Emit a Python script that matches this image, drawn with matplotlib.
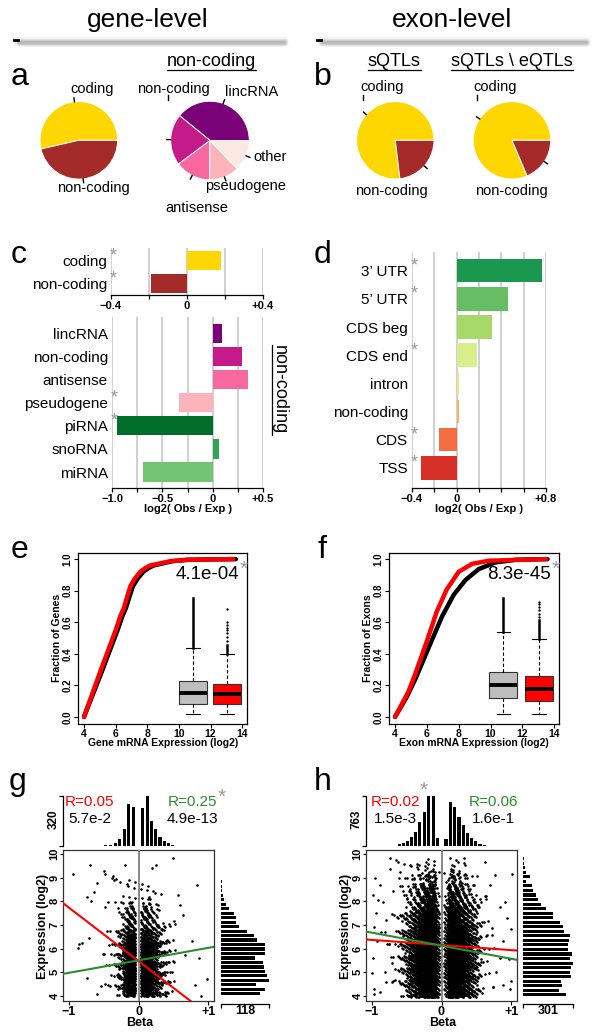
import numpy as np
import matplotlib.pyplot as plt
from matplotlib.lines import Line2D

plt.rcParams['font.family'] = ['Liberation Sans', 'DejaVu Sans']

W, H = 601, 1035

# ---------------- datos ----------------
# a / b: tortas
gene_frac = [0.536, 0.464]            # coding, non-coding
gene_cols = ['#FFD700', '#A52A2A']
nc_cats = ['lincRNA', 'non-coding', 'antisense', 'pseudogene', 'other']
nc_frac = [0.391, 0.211, 0.146, 0.124, 0.128]
nc_cols = ['#7A0177', '#C51B8A', '#F768A1', '#FBB4B9', '#FDE9E3']
sqtl_frac = [0.769, 0.231]
sqtl_noe_frac = [0.814, 0.186]

# c: log2(Obs/Exp) nivel gen
c_top_cats = ['coding', 'non-coding']
c_top_vals = [0.18, -0.19]
c_top_star = [True, True]
c_cats = ['lincRNA', 'non-coding', 'antisense', 'pseudogene', 'piRNA', 'snoRNA', 'miRNA']
c_vals = [0.09, 0.29, 0.35, -0.33, -0.95, 0.06, -0.69]
c_cols = ['#7A0177', '#C51B8A', '#F768A1', '#FBB4B9', '#006D2C', '#31A354', '#74C476']
c_star = [False, False, False, True, True, False, False]

# d: log2(Obs/Exp) nivel exón
d_cats = ['3\u2019 UTR', '5\u2019 UTR', 'CDS beg', 'CDS end', 'intron', 'non-coding', 'CDS', 'TSS']
d_vals = [0.76, 0.46, 0.32, 0.18, 0.025, 0.018, -0.16, -0.32]
d_cols = ['#1A9850', '#66BD63', '#A6D96A', '#D9EF8B', '#FEE08B', '#FDAE61', '#F46D43', '#D73027']
d_star = [True, True, False, True, False, False, True, True]

# e: ECDF expresión génica
e_red_x = [4.0, 5.0, 6.0, 6.3, 6.52, 6.75, 6.94, 7.2, 7.56, 7.9, 8.19, 9.45, 10.5, 13.43]
e_red_y = [0.0, 0.28, 0.55, 0.64, 0.69, 0.77, 0.83, 0.875, 0.92, 0.945, 0.96, 0.987, 0.996, 1.0]
e_blk_x = [4.0, 5.1, 6.12, 6.43, 6.65, 6.9, 7.1, 7.38, 7.75, 8.1, 8.4, 9.6, 10.6, 13.6]
e_blk_y = [0.0, 0.28, 0.55, 0.64, 0.69, 0.77, 0.83, 0.875, 0.92, 0.945, 0.96, 0.987, 0.996, 1.0]
e_box_pos = [10.9, 13.05]
e_box_q = [(0.021, 0.084, 0.152, 0.225, 0.436), (0.021, 0.082, 0.147, 0.21, 0.398)]
e_fl_runs = [(0.436, 0.756), (0.398, 0.457)]
e_fl_dots = [[], [0.482, 0.509, 0.53, 0.55, 0.566, 0.583, 0.60, 0.684]]
e_pval = '4.1e-04'

# f: ECDF expresión exónica
f_red_x = [4.0, 4.84, 5.26, 6.0, 6.63, 7.26, 8.0, 8.84, 9.9, 13.47]
f_red_y = [0.0, 0.16, 0.27, 0.48, 0.67, 0.81, 0.92, 0.97, 0.99, 1.0]
f_blk_x = [4.0, 4.7, 5.26, 6.1, 6.95, 7.68, 8.42, 9.26, 10.3, 11.58, 13.58]
f_blk_y = [0.0, 0.12, 0.236, 0.436, 0.636, 0.773, 0.867, 0.937, 0.979, 0.996, 1.0]
f_box_pos = [10.8, 13.05]
f_box_q = [(0.021, 0.118, 0.2, 0.286, 0.535), (0.021, 0.099, 0.177, 0.259, 0.493)]
f_fl_runs = [(0.535, 0.756), (0.493, 0.615)]
f_fl_dots = [[], [0.635, 0.655, 0.675, 0.695, 0.715, 0.73]]
f_pval = '8.3e-45'

# g: beta vs expresión (histogramas marginales leídos)
g_beta_c = [-0.53, -0.47, -0.40, -0.335, -0.27, -0.20, -0.14, -0.075,
            0.061, 0.123, 0.184, 0.246, 0.307, 0.369, 0.43, 0.49]
g_beta_n = [2, 4, 9, 17, 48, 109, 272, 250, 244, 320, 163, 109, 55, 33, 17, 9]
g_expr_lo, g_expr_hi = 3.985, 9.305
g_expr_n = [96, 108, 86, 118, 112, 108, 106, 104, 84, 108, 109, 109, 88, 80,
            65, 44, 37, 37, 32, 20, 12, 8, 4, 3, 2, 2, 1, 1]
g_out_b = [-0.94, -0.69, -0.49, -0.37, -0.32, -0.60, -0.74, -0.68, -0.63, -0.48, -0.43,
           -0.71, -0.81, -0.87, -0.85, -0.74, -0.59, -0.48, -0.19, 0.49, 0.83, 0.25,
           0.19, 0.57, 0.60, 0.64, 0.76, 0.87, 0.98, 0.90, 0.81, 0.67]
g_out_e = [9.14, 9.54, 9.28, 9.08, 8.93, 8.79, 8.20, 8.01, 8.38, 7.77, 7.96,
           6.44, 6.23, 6.01, 6.18, 4.75, 4.07, 4.49, 9.54, 9.85, 8.69, 9.54,
           9.42, 8.27, 7.85, 7.42, 6.30, 5.59, 4.72, 4.01, 4.46, 5.73]
g_red_line = (5.47, -2.27)    # intercepto, pendiente
g_grn_line = (5.50, 0.53)
g_txt = ('R=0.05', '5.7e-2', 'R=0.25', '4.9e-13')

# h
h_beta_c = [-0.79, -0.73, -0.665, -0.605, -0.545, -0.485, -0.43, -0.37, -0.31, -0.245,
            -0.18, -0.115, -0.057, 0.065, 0.125, 0.19, 0.25, 0.31, 0.37, 0.43, 0.49,
            0.55, 0.61, 0.67, 0.73]
h_beta_n = [3, 5, 7, 23, 41, 75, 134, 214, 364, 513, 758, 763, 127,
            100, 665, 600, 450, 320, 200, 125, 70, 28, 8, 5, 3]
h_expr_lo, h_expr_hi = 3.945, 9.897
h_expr_n = [256, 216, 236, 226, 290, 280, 290, 301, 284, 294, 270, 270, 276, 280, 244,
            240, 220, 180, 180, 136, 106, 90, 76, 60, 56, 20, 40, 16, 10, 8, 6]
h_out_b = [-0.957, -0.98, -0.94, -0.97, -0.92, -0.98, -0.99, -0.97, -0.96, -0.876, -0.83,
           -0.79, -0.73, -0.69, -0.75, -0.71, -0.66, -0.60, -0.55, -0.876, -0.81, -0.86,
           -0.64, -0.50, -0.91, 1.01, 0.77, 0.62, 0.84, 0.93, 0.99, 0.885, 0.96, 1.0,
           0.98, 0.74, 0.50, 0.65, 0.83, 0.78, 0.875, 0.72, 0.56, 0.69, 0.91]
h_out_e = [8.97, 8.27, 7.52, 6.93, 6.30, 5.59, 4.96, 4.30, 4.07, 8.69, 7.96,
           7.21, 9.37, 8.44, 6.18, 5.38, 4.68, 9.23, 6.51, 4.15, 5.0, 6.72,
           7.35, 8.13, 8.06, 9.14, 9.11, 9.65, 7.77, 7.28, 6.83, 6.30, 5.56, 4.61,
           4.30, 4.39, 8.27, 6.58, 5.59, 5.0, 4.46, 6.86, 5.56, 8.69, 7.99]
h_red_line = (6.15, -0.217)
h_grn_line = (6.12, -0.555)
h_txt = ('R=0.02', '1.5e-3', 'R=0.06', '1.6e-1')

RED = '#FF0000'
GREEN = '#2E8B2E'
STAR = '#999999'

fig = plt.figure(figsize=(W / 100, H / 100), dpi=100)


def pax(x0, y0, x1, y1):
    # ejes en coordenadas de píxel (origen arriba a la izquierda)
    return fig.add_axes([x0 / W, 1 - y1 / H, (x1 - x0) / W, (y1 - y0) / H])


def ftext(x, y, s, **kw):
    return fig.text(x / W, 1 - y / H, s, **kw)


def fline(xs, ys, **kw):
    fig.add_artist(Line2D([x / W for x in xs], [1 - y / H for y in ys],
                          transform=fig.transFigure, **kw))


underlined = []

# ---------------- encabezados ----------------
for cx, x0, x1, s in [(148, 16, 284, 'gene-level'), (452, 319, 586, 'exon-level')]:
    ftext(cx, 27, s, fontsize=19, ha='center', va='baseline')
    for lw, a in [(7, 0.10), (5, 0.15), (3.5, 0.2), (2, 0.25)]:
        fline([x0 + 3, x1], [42, 42], color='#7F7F7F', lw=lw, alpha=a, solid_capstyle='round')
    fline([x0 - 2, x0 + 1.5], [40, 40], color='black', lw=2)

for s, x, y in [('a', 11, 85), ('b', 314, 85), ('c', 11, 263), ('d', 314, 263),
                ('e', 11, 558), ('f', 318, 558), ('g', 9, 790), ('h', 314, 790)]:
    ftext(x, y, s, fontsize=23, va='baseline', ha='left')


# ---------------- tortas ----------------
def pie(cx, cy, r, fr, cols):
    ax = pax(cx - r, cy - r, cx + r, cy + r)
    ax.pie(fr, colors=cols, startangle=0, counterclock=True, radius=1,
           wedgeprops=dict(edgecolor='white', linewidth=0.7))
    ax.set_xlim(-1, 1)
    ax.set_ylim(-1, 1)
    ax.axis('off')
    f = np.array(fr) / np.sum(fr)
    mids = (np.cumsum(f) - f / 2) * 2 * np.pi
    for m in mids:
        ax.plot([np.cos(m), 1.1 * np.cos(m)], [np.sin(m), 1.1 * np.sin(m)],
                color='black', lw=1, clip_on=False)
    return ax


pie(78.8, 140.3, 38.8, gene_frac, gene_cols)
pie(210, 140.5, 39.3, nc_frac, nc_cols)
pie(395.3, 140.3, 38.7, sqtl_frac, gene_cols)
pie(512, 140.3, 38.7, sqtl_noe_frac, gene_cols)

lbl = dict(fontsize=10.5, ha='center', va='baseline')
ftext(91.7, 93, 'coding', **lbl)
ftext(93.3, 191.5, 'non-coding', **lbl)
ftext(173.7, 93.5, 'non-coding', **lbl)
ftext(251.7, 95.5, 'lincRNA', **lbl)
ftext(269.7, 161.5, 'other', **lbl)
ftext(245.8, 190, 'pseudogene', **lbl)
ftext(196.7, 212.5, 'antisense', **lbl)
ftext(381.7, 91.5, 'coding', **lbl)
ftext(495.3, 91.5, 'coding', **lbl)
ftext(391.7, 195, 'non-coding', **lbl)
ftext(511.7, 195, 'non-coding', **lbl)
# pequeñas marcas junto a las etiquetas
for x in [168, 363, 477]:
    fline([x, x], [95, 100], color='black', lw=1)

tit = dict(fontsize=13, ha='center', va='baseline')
underlined.append((ftext(211.7, 66.5, 'non-coding', **tit), 'h'))
underlined.append((ftext(394.2, 66.5, 'sQTLs', **tit), 'h'))
underlined.append((ftext(511.7, 66.5, 'sQTLs \\ eQTLs', **tit), 'h'))


# ---------------- barras c / d ----------------
def barpanel(ax, cats, vals, cols, stars, xlim, ylim, ticks, ticklabels):
    pos = np.arange(len(cats))[::-1]
    ax.barh(pos, vals, height=0.83, color=cols, zorder=2)
    for t in ticks:
        ax.axvline(t, color='#C8C8C8', lw=1.2, zorder=1)
    ax.set_xlim(xlim)
    ax.set_ylim(ylim)
    ax.set_yticks(pos, cats)
    ax.tick_params(axis='y', length=0, pad=3, labelsize=11)
    for s in ['top', 'right', 'left']:
        ax.spines[s].set_visible(False)
    ax.spines['bottom'].set_bounds(*xlim)
    ax.spines['bottom'].set_linewidth(0.9)
    ax.set_xticks(ticks, ticklabels)
    ax.tick_params(axis='x', length=3, width=0.9, labelsize=8, pad=1.2)
    for t in ax.get_xticklabels():
        t.set_fontweight('bold')
    for p, s in zip(pos, stars):
        if s:
            ax.annotate('*', xy=(0, p), xycoords=ax.get_yaxis_transform(),
                        xytext=(-0.8, 3.3), textcoords='offset points',
                        color=STAR, fontsize=13, ha='left', va='center')


ax = pax(111, 248, 263, 295)
barpanel(ax, c_top_cats, c_top_vals, ['#FFD700', '#A52A2A'], c_top_star,
         (-0.4, 0.4), (-0.52, 1.55), [-0.4, -0.2, 0, 0.2, 0.4],
         ['\u22120.4', '', '0', '', '+0.4'])

ax = pax(112, 317, 263, 488)
barpanel(ax, c_cats, c_vals, c_cols, c_star, (-1.0, 0.5), (-0.69, 6.71),
         [-1.0, -0.75, -0.5, -0.25, 0, 0.25, 0.5],
         ['\u22121.0', '', '\u22120.5', '', '0', '', '+0.5'])
ftext(187.5, 508.5, 'log2( Obs / Exp )', fontsize=8, fontweight='bold', ha='center', va='center')
underlined.append((ftext(279.5, 390, 'non-coding', fontsize=13, rotation=-90,
                         ha='center', va='center'), 'v'))

ax = pax(412, 252, 546, 488)
barpanel(ax, d_cats, d_vals, d_cols, d_star, (-0.4, 0.8), (-0.71, 7.66),
         [-0.4, -0.2, 0, 0.2, 0.4, 0.6, 0.8],
         ['\u22120.4', '', '0', '', '', '', '+0.8'])
ftext(479, 509.5, 'log2( Obs / Exp )', fontsize=8, fontweight='bold', ha='center', va='center')


# ---------------- ECDF e / f ----------------
def ecdf_panel(x0, x1, rx, ry, bx, by, bpos, bq, runs, dots, pval, xlabel, ylabel, lx, ly_x):
    ax = pax(x0, 552.5, x1, 723.5)
    ax.plot(bx, by, color='black', lw=3.2, solid_capstyle='round', zorder=2)
    ax.plot(rx, ry, color='red', lw=3.2, solid_capstyle='round', zorder=3)
    stats = [dict(whislo=q[0], q1=q[1], med=q[2], q3=q[3], whishi=q[4], fliers=[]) for q in bq]
    bp = ax.bxp(stats, positions=bpos, widths=1.75, patch_artist=True, showfliers=False,
                manage_ticks=False, capwidths=0.85,
                boxprops=dict(lw=0.8, edgecolor='#333333'),
                medianprops=dict(color='black', lw=2.8),
                whiskerprops=dict(ls=(0, (3, 2)), lw=0.8),
                capprops=dict(lw=0.8))
    for patch, c in zip(bp['boxes'], ['#BEBEBE', '#FF0000']):
        patch.set_facecolor(c)
    for p, (lo, hi), dd in zip(bpos, runs, dots):
        ax.plot([p, p], [lo, hi], color='black', lw=1.8, zorder=4)
        ax.plot([p] * len(dd), dd, 'o', color='black', ms=1.7, mew=0, zorder=4)
    ax.set_xlim(3.62, 14.3)
    ax.set_ylim(-0.042, 1.042)
    ax.set_xticks([4, 6, 8, 10, 12, 14])
    ax.set_yticks([0, 0.2, 0.4, 0.6, 0.8, 1.0], ['0.0', '0.2', '0.4', '0.6', '0.8', '1.0'])
    ax.tick_params(length=3, width=0.8, labelsize=7.5, pad=1)
    for t in ax.get_xticklabels() + ax.get_yticklabels():
        t.set_fontweight('bold')
    for t in ax.get_yticklabels():
        t.set_rotation(90)
        t.set_va('center')
        t.set_fontsize(7)
    for s in ax.spines.values():
        s.set_linewidth(0.9)
    ax.text(0.955, 0.845, pval, transform=ax.transAxes, fontsize=13.5, ha='right', va='baseline')
    ax.text(0.955, 0.87, '*', transform=ax.transAxes, fontsize=15, color=STAR, ha='left', va='baseline')
    ftext(lx, 743.5, xlabel, fontsize=7.5, fontweight='bold', ha='center', va='center')
    ftext(ly_x, 638, ylabel, fontsize=7.5, fontweight='bold', ha='center', va='center', rotation=90)
    return ax


ecdf_panel(78, 247, e_red_x, e_red_y, e_blk_x, e_blk_y, e_box_pos, e_box_q,
           e_fl_runs, e_fl_dots, e_pval, 'Gene mRNA Expression (log2)', 'Fraction of Genes', 163, 57)
ecdf_panel(389, 559, f_red_x, f_red_y, f_blk_x, f_blk_y, f_box_pos, f_box_q,
           f_fl_runs, f_fl_dots, f_pval, 'Exon mRNA Expression (log2)', 'Fraction of Exons', 474, 368)


# ---------------- dispersión g / h ----------------
def cloud(centers, counts, edges, ecounts, bw):
    # reparte los puntos de cada bin de beta según la distribución marginal de expresión
    cum = np.concatenate([[0], np.cumsum(ecounts)]) / np.sum(ecounts)
    xs, ys = [], []
    for i, (c, n) in enumerate(zip(centers, counts)):
        k = np.arange(1, n + 1)
        u = (k * 0.7548776662 + 0.13 * i) % 1
        v = (k * 0.5698402910 + 0.29 * i) % 1
        xs.append(c + (u - 0.5) * bw)
        ys.append(np.interp(v, cum, edges))
    return np.concatenate(xs), np.concatenate(ys)


def scatter_panel(x0, x1, rh0, rh1, bc, bn, elo, ehi, en, ob, oe, redl, grnl, txt,
                  star_xy, txt_x):
    ylim = (3.78, 10.17)
    xlim = (-1.08, 1.08)
    edges = np.linspace(elo, ehi, len(en) + 1)
    ecent = (edges[:-1] + edges[1:]) / 2

    ax = pax(x0, 850, x1, 1001)
    cx, cy = cloud(bc, bn, edges, en, 0.062)
    ax.scatter(cx, cy, s=3.5, color='black', linewidths=0, zorder=2)
    ax.scatter(ob, oe, s=3.5, color='black', linewidths=0, zorder=2)
    ax.axvline(0, color='#808080', lw=1.3, zorder=3)
    xx = np.array(xlim)
    ax.plot(xx, redl[0] + redl[1] * xx, color=RED, lw=1.5, zorder=4)
    ax.plot(xx, grnl[0] + grnl[1] * xx, color=GREEN, lw=1.5, zorder=4)
    ax.set_xlim(xlim)
    ax.set_ylim(ylim)
    ax.set_xticks([-1, 0, 1], ['\u22121', '0', '+1'])
    ax.set_yticks(range(4, 11))
    ax.tick_params(axis='x', length=3, width=0.8, labelsize=9, pad=0.5)
    ax.tick_params(axis='y', length=2.2, width=0.8, labelsize=8, pad=0.3)
    for t in ax.get_xticklabels() + ax.get_yticklabels():
        t.set_fontweight('bold')
    for t in ax.get_yticklabels():
        t.set_rotation(90)
        t.set_va('center')
    for s in ax.spines.values():
        s.set_linewidth(0.9)
        s.set_color('#333333')
    ftext((x0 + x1) / 2 + 1, 1023.5, 'Beta', fontsize=9, fontweight='bold', ha='center', va='center')
    ftext(x0 - 20, 926, 'Expression (log2)', fontsize=9, fontweight='bold',
          ha='center', va='center', rotation=90)

    # histograma superior
    top = pax(x0, 796, x1, 846)
    top.bar(bc, bn, width=0.045, color='black')
    top.set_xlim(xlim)
    top.set_ylim(0, max(bn))
    for s in ['top', 'right', 'bottom']:
        top.spines[s].set_visible(False)
    top.spines['left'].set_bounds(0, max(bn))
    top.spines['left'].set_linewidth(0.9)
    top.set_xticks([])
    top.set_yticks([0, max(bn)], ['', ''])
    top.tick_params(length=3, width=0.9)
    ftext(x0 - 9, 819, str(max(bn)), fontsize=8.5, fontweight='bold',
          ha='center', va='center', rotation=90)

    # histograma derecho
    rh = pax(rh0, 850, rh1, 1001)
    rh.barh(ecent, en, height=0.13, color='black')
    rh.set_ylim(ylim)
    rh.set_xlim(0, max(en))
    for s in ['top', 'right', 'left']:
        rh.spines[s].set_visible(False)
    rh.spines['bottom'].set_bounds(0, max(en))
    rh.spines['bottom'].set_position(('outward', 2))
    rh.spines['bottom'].set_linewidth(0.9)
    rh.set_yticks([])
    rh.set_xticks([0, max(en)], ['', ''])
    rh.tick_params(length=3, width=0.9)
    ftext((rh0 + rh1) / 2, 1011, str(max(en)), fontsize=9, fontweight='bold',
          ha='center', va='center')

    # textos R y p
    ftext(txt_x[0], 805.5, txt[0], fontsize=11, color=RED, ha='center', va='baseline')
    ftext(txt_x[0], 823, txt[1], fontsize=11, ha='center', va='baseline')
    ftext(txt_x[1], 805.5, txt[2], fontsize=11, color=GREEN, ha='center', va='baseline')
    ftext(txt_x[1], 823, txt[3], fontsize=11, ha='center', va='baseline')
    ftext(star_xy[0], star_xy[1], '*', fontsize=15, color=STAR, ha='center', va='center')


scatter_panel(63, 214, 221, 269, g_beta_c, g_beta_n, g_expr_lo, g_expr_hi, g_expr_n,
              g_out_b, g_out_e, g_red_line, g_grn_line, g_txt, (222, 797), (90, 192.5))
scatter_panel(366, 517, 523, 573, h_beta_c, h_beta_n, h_expr_lo, h_expr_hi, h_expr_n,
              h_out_b, h_out_e, h_red_line, h_grn_line, h_txt, (423.5, 790), (395.8, 493.5))

# subrayados
fig.canvas.draw()
for t, kind in underlined:
    bb = t.get_window_extent()
    if kind == 'h':
        fig.add_artist(Line2D([bb.x0 / W, bb.x1 / W], [(bb.y0 + 1) / H] * 2,
                              transform=fig.transFigure, color='black', lw=0.9))
    else:
        fig.add_artist(Line2D([(bb.x0 + 1) / W] * 2, [bb.y0 / H, bb.y1 / H],
                              transform=fig.transFigure, color='black', lw=0.9))

plt.savefig('out.png', dpi=100)
